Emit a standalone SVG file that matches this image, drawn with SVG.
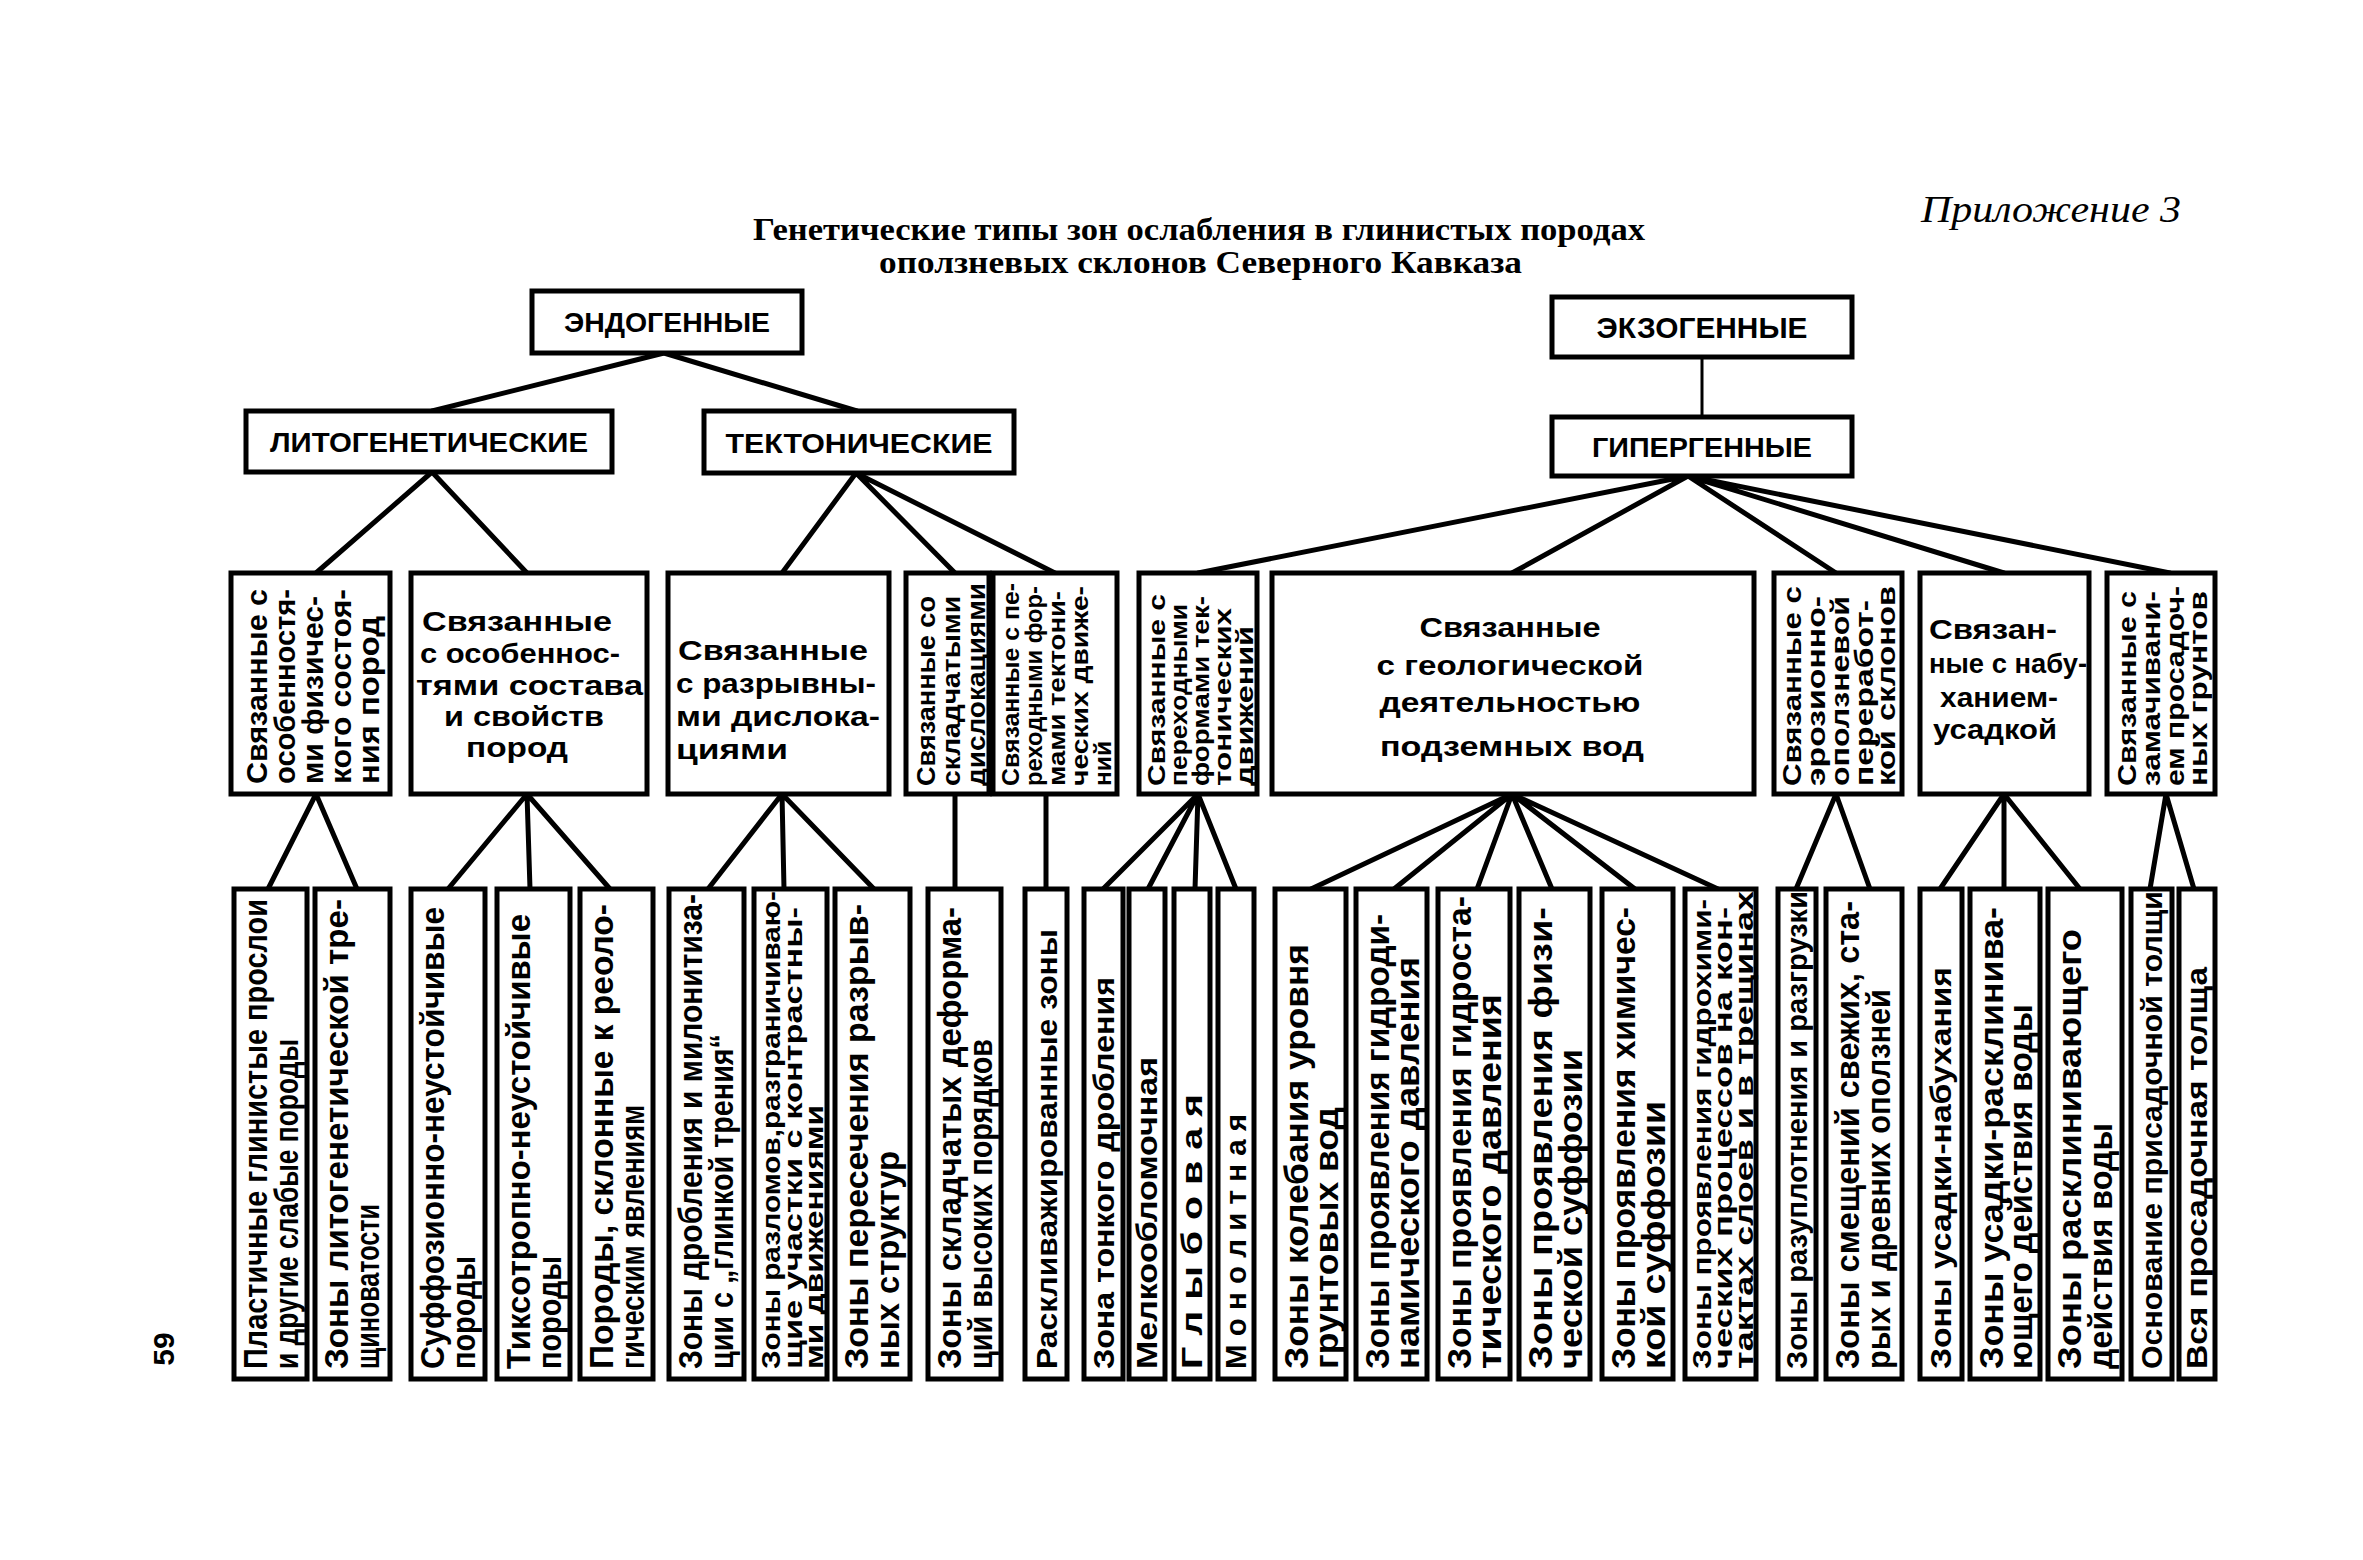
<svg xmlns="http://www.w3.org/2000/svg" width="2363" height="1560" viewBox="0 0 2363 1560">
<style>
.bx{fill:#fff;stroke:#000;stroke-width:5}
.ln{stroke:#000;stroke-width:5;fill:none;stroke-linecap:round}
.thin{stroke:#000;stroke-width:3;fill:none}
.t{font-family:"Liberation Sans","DejaVu Sans",sans-serif;font-weight:bold;fill:#000}
.b2{font-size:33px}
.b3{font-size:25px}
.b1{font-size:30px}
.hd{font-size:27px}
.mh{font-size:28px}
.title{font-family:"Liberation Serif",serif;font-weight:bold;font-size:32px;fill:#000}
</style>
<rect width="2363" height="1560" fill="#fff"/>
<text x="1921" y="222" style="font-family:'Liberation Serif',serif;font-style:italic;font-size:38px" textLength="260" lengthAdjust="spacingAndGlyphs">Приложение 3</text>
<text class="title" x="753" y="240" textLength="892" lengthAdjust="spacingAndGlyphs">Генетические типы зон ослабления в глинистых породах</text>
<text class="title" x="879" y="273" textLength="643" lengthAdjust="spacingAndGlyphs">оползневых склонов Северного Кавказа</text>
<text class="t" transform="translate(174,1349) rotate(-90)" style="font-size:30px" text-anchor="middle">59</text>

<g id="connectors">
<path class="ln" d="M664 353L432 411M664 353L857 411"/>
<path class="thin" d="M1702 357V417"/>
<path class="ln" d="M432 472L316 573M432 472L527 573"/>
<path class="ln" d="M856 473L782 573M856 473L955 573M856 473L1055 573"/>
<path class="ln" d="M1688 476L1198 573M1688 476L1512 573M1688 476L1836 573M1688 476L2004 573M1688 476L2170 573"/>
<path class="ln" d="M316 794L268 889M316 794L357 889"/>
<path class="ln" d="M527 794L448 889M527 794L530 889M527 794L610 889"/>
<path class="ln" d="M782 794L708 889M782 794L784 889M782 794L874 889"/>
<path class="ln" d="M955 794V889M1046 794V889"/>
<path class="ln" d="M1198 794L1103 889M1198 794L1148 889M1198 794L1195 889M1198 794L1236 889"/>
<path class="ln" d="M1512 794L1311 889M1512 794L1394 889M1512 794L1477 889M1512 794L1552 889M1512 794L1635 889M1512 794L1718 889"/>
<path class="ln" d="M1836 794L1796 889M1836 794L1870 889"/>
<path class="ln" d="M2004 794L1940 889M2004 794V889M2004 794L2080 889"/>
<path class="ln" d="M2166 794L2150 889M2166 794L2194 889"/>
</g>

<g id="n-endo"><rect class="bx" x="532" y="291" width="270" height="62"/><text class="t hd" x="667" y="332" text-anchor="middle" textLength="206" lengthAdjust="spacingAndGlyphs">ЭНДОГЕННЫЕ</text></g>
<g id="n-exo"><rect class="bx" x="1552" y="297" width="300" height="60"/><text class="t hd" x="1702" y="338" text-anchor="middle" textLength="211" lengthAdjust="spacingAndGlyphs" style="font-size:30px">ЭКЗОГЕННЫЕ</text></g>
<g id="n-lito"><rect class="bx" x="246" y="411" width="366" height="61"/><text class="t hd" x="429" y="452" text-anchor="middle" textLength="318" lengthAdjust="spacingAndGlyphs">ЛИТОГЕНЕТИЧЕСКИЕ</text></g>
<g id="n-tekt"><rect class="bx" x="704" y="411" width="310" height="62"/><text class="t hd" x="859" y="453" text-anchor="middle" textLength="267" lengthAdjust="spacingAndGlyphs">ТЕКТОНИЧЕСКИЕ</text></g>
<g id="n-giper"><rect class="bx" x="1552" y="417" width="300" height="59"/><text class="t hd" x="1702" y="457" text-anchor="middle" textLength="220" lengthAdjust="spacingAndGlyphs">ГИПЕРГЕННЫЕ</text></g>

<g id="m1"><rect class="bx" x="231" y="573" width="159" height="221"/>
<g transform="translate(231,794) rotate(-90)" class="t" style="font-size:29px">
<text x="10" y="36" textLength="195" lengthAdjust="spacingAndGlyphs">Связанные с</text>
<text x="10" y="64" textLength="195" lengthAdjust="spacingAndGlyphs">особенностя-</text>
<text x="10" y="92" textLength="188" lengthAdjust="spacingAndGlyphs">ми физичес-</text>
<text x="10" y="120" textLength="195" lengthAdjust="spacingAndGlyphs">кого состоя-</text>
<text x="10" y="148" textLength="168" lengthAdjust="spacingAndGlyphs">ния пород</text>
</g></g>
<g id="m2"><rect class="bx" x="411" y="573" width="236" height="221"/>
<g class="t mh">
<text x="422" y="631" textLength="190" lengthAdjust="spacingAndGlyphs">Связанные</text>
<text x="420" y="663" textLength="200" lengthAdjust="spacingAndGlyphs">с особеннос-</text>
<text x="416" y="695" textLength="227" lengthAdjust="spacingAndGlyphs">тями состава</text>
<text x="444" y="726" textLength="160" lengthAdjust="spacingAndGlyphs">и свойств</text>
<text x="466" y="757" textLength="102" lengthAdjust="spacingAndGlyphs">пород</text>
</g></g>
<g id="m3"><rect class="bx" x="668" y="573" width="221" height="221"/>
<g class="t mh">
<text x="678" y="660" textLength="190" lengthAdjust="spacingAndGlyphs">Связанные</text>
<text x="676" y="693" textLength="200" lengthAdjust="spacingAndGlyphs">с разрывны-</text>
<text x="676" y="726" textLength="204" lengthAdjust="spacingAndGlyphs">ми дислока-</text>
<text x="676" y="759" textLength="112" lengthAdjust="spacingAndGlyphs">циями</text>
</g></g>
<g id="m4"><rect class="bx" x="906" y="573" width="83" height="221"/>
<g transform="translate(906,794) rotate(-90)" class="t" style="font-size:26px">
<text x="8" y="29" textLength="190" lengthAdjust="spacingAndGlyphs">Связанные со</text>
<text x="8" y="54" textLength="190" lengthAdjust="spacingAndGlyphs">складчатыми</text>
<text x="8" y="79" textLength="203" lengthAdjust="spacingAndGlyphs">дислокациями</text>
</g></g>
<g id="m5"><rect class="bx" x="993" y="573" width="124" height="221"/>
<g transform="translate(993,794) rotate(-90)" class="t" style="font-size:24px">
<text x="8" y="26" textLength="203" lengthAdjust="spacingAndGlyphs">Связанные с пе-</text>
<text x="8" y="49" textLength="200" lengthAdjust="spacingAndGlyphs">реходными фор-</text>
<text x="8" y="72" textLength="195" lengthAdjust="spacingAndGlyphs">мами тектони-</text>
<text x="8" y="95" textLength="200" lengthAdjust="spacingAndGlyphs">ческих движе-</text>
<text x="8" y="118" textLength="45" lengthAdjust="spacingAndGlyphs">ний</text>
</g></g>
<g id="m6"><rect class="bx" x="1139" y="573" width="118" height="221"/>
<g transform="translate(1139,794) rotate(-90)" class="t" style="font-size:24px">
<text x="8" y="26" textLength="192" lengthAdjust="spacingAndGlyphs">Связанные с</text>
<text x="8" y="48" textLength="182" lengthAdjust="spacingAndGlyphs">переходными</text>
<text x="8" y="70" textLength="190" lengthAdjust="spacingAndGlyphs">формами тек-</text>
<text x="8" y="92" textLength="178" lengthAdjust="spacingAndGlyphs">тонических</text>
<text x="8" y="114" textLength="160" lengthAdjust="spacingAndGlyphs">движений</text>
</g></g>
<g id="m7"><rect class="bx" x="1272" y="573" width="482" height="221"/>
<g class="t mh" text-anchor="middle">
<text x="1510" y="637" textLength="181" lengthAdjust="spacingAndGlyphs">Связанные</text>
<text x="1510" y="675" textLength="267" lengthAdjust="spacingAndGlyphs">с геологической</text>
<text x="1510" y="712" textLength="261" lengthAdjust="spacingAndGlyphs">деятельностью</text>
<text x="1512" y="756" textLength="264" lengthAdjust="spacingAndGlyphs">подземных вод</text>
</g></g>
<g id="m8"><rect class="bx" x="1774" y="573" width="128" height="221"/>
<g transform="translate(1774,794) rotate(-90)" class="t" style="font-size:25px">
<text x="8" y="27" textLength="200" lengthAdjust="spacingAndGlyphs">Связанные с</text>
<text x="8" y="51" textLength="190" lengthAdjust="spacingAndGlyphs">эрозионно-</text>
<text x="8" y="75" textLength="190" lengthAdjust="spacingAndGlyphs">оползневой</text>
<text x="8" y="99" textLength="186" lengthAdjust="spacingAndGlyphs">переработ-</text>
<text x="8" y="121" textLength="200" lengthAdjust="spacingAndGlyphs">кой склонов</text>
</g></g>
<g id="m9"><rect class="bx" x="1920" y="573" width="169" height="221"/>
<g class="t mh">
<text x="1929" y="639" textLength="128" lengthAdjust="spacingAndGlyphs">Связан-</text>
<text x="1929" y="673" textLength="158" lengthAdjust="spacingAndGlyphs">ные с набу-</text>
<text x="1940" y="707" textLength="118" lengthAdjust="spacingAndGlyphs">ханием-</text>
<text x="1933" y="739" textLength="124" lengthAdjust="spacingAndGlyphs">усадкой</text>
</g></g>
<g id="m10"><rect class="bx" x="2107" y="573" width="108" height="221"/>
<g transform="translate(2107,794) rotate(-90)" class="t" style="font-size:25px">
<text x="8" y="29" textLength="195" lengthAdjust="spacingAndGlyphs">Связанные с</text>
<text x="8" y="53" textLength="195" lengthAdjust="spacingAndGlyphs">замачивани-</text>
<text x="8" y="77" textLength="200" lengthAdjust="spacingAndGlyphs">ем просадоч-</text>
<text x="8" y="100" textLength="195" lengthAdjust="spacingAndGlyphs">ных грунтов</text>
</g></g>

<g id="b-a"><rect class="bx" x="234" y="889" width="73" height="490"/>
<g transform="translate(234,1379) rotate(-90)" class="t b2">
<text x="10" y="33" textLength="470" lengthAdjust="spacingAndGlyphs">Пластичные глинистые прослои</text>
<text x="10" y="64" textLength="330" lengthAdjust="spacingAndGlyphs">и другие слабые породы</text>
</g></g>
<g id="b-b"><rect class="bx" x="315" y="889" width="75" height="490"/>
<g transform="translate(315,1379) rotate(-90)" class="t b2">
<text x="10" y="33" textLength="470" lengthAdjust="spacingAndGlyphs">Зоны литогенетической тре-</text>
<text x="10" y="64" textLength="165" lengthAdjust="spacingAndGlyphs">щиноватости</text>
</g></g>
<g id="b-c"><rect class="bx" x="411" y="889" width="74" height="490"/>
<g transform="translate(411,1379) rotate(-90)" class="t b2">
<text x="10" y="33" textLength="462" lengthAdjust="spacingAndGlyphs">Суффозионно-неустойчивые</text>
<text x="10" y="64" textLength="113" lengthAdjust="spacingAndGlyphs">породы</text>
</g></g>
<g id="b-d"><rect class="bx" x="497" y="889" width="73" height="490"/>
<g transform="translate(497,1379) rotate(-90)" class="t b2">
<text x="10" y="33" textLength="455" lengthAdjust="spacingAndGlyphs">Тиксотропно-неустойчивые</text>
<text x="10" y="64" textLength="113" lengthAdjust="spacingAndGlyphs">породы</text>
</g></g>
<g id="b-e"><rect class="bx" x="580" y="889" width="73" height="490"/>
<g transform="translate(580,1379) rotate(-90)" class="t b2">
<text x="10" y="33" textLength="465" lengthAdjust="spacingAndGlyphs">Породы, склонные к реоло-</text>
<text x="10" y="64" textLength="264" lengthAdjust="spacingAndGlyphs">гическим явлениям</text>
</g></g>
<g id="b-f"><rect class="bx" x="669" y="889" width="75" height="490"/>
<g transform="translate(669,1379) rotate(-90)" class="t b2">
<text x="10" y="33" textLength="475" lengthAdjust="spacingAndGlyphs">Зоны дробления и милонитиза-</text>
<text x="10" y="64" textLength="335" lengthAdjust="spacingAndGlyphs">ции с „глинкой трения“</text>
</g></g>
<g id="b-g"><rect class="bx" x="754" y="889" width="73" height="490"/>
<g transform="translate(754,1379) rotate(-90)" class="t b3">
<text x="10" y="26" textLength="478" lengthAdjust="spacingAndGlyphs">Зоны разломов,разграничиваю-</text>
<text x="10" y="48" textLength="462" lengthAdjust="spacingAndGlyphs">щие участки с контрастны-</text>
<text x="10" y="69" textLength="264" lengthAdjust="spacingAndGlyphs">ми движениями</text>
</g></g>
<g id="b-h"><rect class="bx" x="835" y="889" width="75" height="490"/>
<g transform="translate(835,1379) rotate(-90)" class="t b2">
<text x="10" y="33" textLength="465" lengthAdjust="spacingAndGlyphs">Зоны пересечения разрыв-</text>
<text x="10" y="64" textLength="218" lengthAdjust="spacingAndGlyphs">ных структур</text>
</g></g>
<g id="b-i"><rect class="bx" x="928" y="889" width="73" height="490"/>
<g transform="translate(928,1379) rotate(-90)" class="t b2">
<text x="10" y="33" textLength="462" lengthAdjust="spacingAndGlyphs">Зоны складчатых деформа-</text>
<text x="10" y="64" textLength="330" lengthAdjust="spacingAndGlyphs">ций высоких порядков</text>
</g></g>
<g id="b-j"><rect class="bx" x="1025" y="889" width="42" height="490"/>
<g transform="translate(1025,1379) rotate(-90)" class="t b1">
<text x="10" y="32" textLength="440" lengthAdjust="spacingAndGlyphs">Раскливажированные зоны</text>
</g></g>
<g id="b-k"><rect class="bx" x="1084" y="889" width="39" height="490"/>
<g transform="translate(1084,1379) rotate(-90)" class="t b1">
<text x="10" y="30" textLength="392" lengthAdjust="spacingAndGlyphs">Зона тонкого дробления</text>
</g></g>
<g id="b-l"><rect class="bx" x="1129" y="889" width="36" height="490"/>
<g transform="translate(1129,1379) rotate(-90)" class="t b1">
<text x="10" y="28" textLength="312" lengthAdjust="spacingAndGlyphs">Мелкообломочная</text>
</g></g>
<g id="b-m"><rect class="bx" x="1174" y="889" width="36" height="490"/>
<g transform="translate(1174,1379) rotate(-90)" class="t b1">
<text x="10" y="28" textLength="275" lengthAdjust="spacingAndGlyphs">Г л ы б о в а я</text>
</g></g>
<g id="b-n"><rect class="bx" x="1218" y="889" width="36" height="490"/>
<g transform="translate(1218,1379) rotate(-90)" class="t b1">
<text x="10" y="28" textLength="255" lengthAdjust="spacingAndGlyphs">М о н о л и т н а я</text>
</g></g>
<g id="b-o"><rect class="bx" x="1275" y="889" width="71" height="490"/>
<g transform="translate(1275,1379) rotate(-90)" class="t b2">
<text x="10" y="33" textLength="425" lengthAdjust="spacingAndGlyphs">Зоны колебания уровня</text>
<text x="10" y="63" textLength="262" lengthAdjust="spacingAndGlyphs">грунтовых вод</text>
</g></g>
<g id="b-p"><rect class="bx" x="1356" y="889" width="71" height="490"/>
<g transform="translate(1356,1379) rotate(-90)" class="t b2">
<text x="10" y="33" textLength="455" lengthAdjust="spacingAndGlyphs">Зоны проявления гидроди-</text>
<text x="10" y="63" textLength="412" lengthAdjust="spacingAndGlyphs">намического давления</text>
</g></g>
<g id="b-q"><rect class="bx" x="1438" y="889" width="72" height="490"/>
<g transform="translate(1438,1379) rotate(-90)" class="t b2">
<text x="10" y="33" textLength="473" lengthAdjust="spacingAndGlyphs">Зоны проявления гидроста-</text>
<text x="10" y="63" textLength="375" lengthAdjust="spacingAndGlyphs">тического давления</text>
</g></g>
<g id="b-r"><rect class="bx" x="1519" y="889" width="71" height="490"/>
<g transform="translate(1519,1379) rotate(-90)" class="t b2">
<text x="10" y="33" textLength="462" lengthAdjust="spacingAndGlyphs">Зоны проявления физи-</text>
<text x="10" y="63" textLength="320" lengthAdjust="spacingAndGlyphs">ческой суффозии</text>
</g></g>
<g id="b-s"><rect class="bx" x="1602" y="889" width="71" height="490"/>
<g transform="translate(1602,1379) rotate(-90)" class="t b2">
<text x="10" y="33" textLength="462" lengthAdjust="spacingAndGlyphs">Зоны проявления химичес-</text>
<text x="10" y="63" textLength="268" lengthAdjust="spacingAndGlyphs">кой суффозии</text>
</g></g>
<g id="b-t"><rect class="bx" x="1685" y="889" width="71" height="490"/>
<g transform="translate(1685,1379) rotate(-90)" class="t b3">
<text x="10" y="26" textLength="470" lengthAdjust="spacingAndGlyphs">Зоны проявления гидрохими-</text>
<text x="10" y="47" textLength="462" lengthAdjust="spacingAndGlyphs">ческих процессов на кон-</text>
<text x="10" y="68" textLength="478" lengthAdjust="spacingAndGlyphs">тактах слоев и в трещинах</text>
</g></g>
<g id="b-u"><rect class="bx" x="1778" y="889" width="38" height="490"/>
<g transform="translate(1778,1379) rotate(-90)" class="t b1">
<text x="10" y="29" textLength="478" lengthAdjust="spacingAndGlyphs">Зоны разуплотнения и разгрузки</text>
</g></g>
<g id="b-v"><rect class="bx" x="1826" y="889" width="76" height="490"/>
<g transform="translate(1826,1379) rotate(-90)" class="t b2">
<text x="10" y="33" textLength="468" lengthAdjust="spacingAndGlyphs">Зоны смещений свежих, ста-</text>
<text x="10" y="64" textLength="380" lengthAdjust="spacingAndGlyphs">рых и древних оползней</text>
</g></g>
<g id="b-w"><rect class="bx" x="1920" y="889" width="42" height="490"/>
<g transform="translate(1920,1379) rotate(-90)" class="t b1">
<text x="10" y="31" textLength="402" lengthAdjust="spacingAndGlyphs">Зоны усадки-набухания</text>
</g></g>
<g id="b-x"><rect class="bx" x="1970" y="889" width="70" height="490"/>
<g transform="translate(1970,1379) rotate(-90)" class="t b2">
<text x="10" y="33" textLength="462" lengthAdjust="spacingAndGlyphs">Зоны усадки-расклинива-</text>
<text x="10" y="62" textLength="365" lengthAdjust="spacingAndGlyphs">ющего действия воды</text>
</g></g>
<g id="b-y"><rect class="bx" x="2048" y="889" width="74" height="490"/>
<g transform="translate(2048,1379) rotate(-90)" class="t b2">
<text x="10" y="33" textLength="440" lengthAdjust="spacingAndGlyphs">Зоны расклинивающего</text>
<text x="10" y="64" textLength="246" lengthAdjust="spacingAndGlyphs">действия воды</text>
</g></g>
<g id="b-z"><rect class="bx" x="2131" y="889" width="41" height="490"/>
<g transform="translate(2131,1379) rotate(-90)" class="t b1">
<text x="10" y="31" textLength="478" lengthAdjust="spacingAndGlyphs">Основание присадочной толщи</text>
</g></g>
<g id="b-aa"><rect class="bx" x="2179" y="889" width="36" height="490"/>
<g transform="translate(2179,1379) rotate(-90)" class="t b1">
<text x="10" y="28" textLength="402" lengthAdjust="spacingAndGlyphs">Вся просадочная толща</text>
</g></g>
</svg>
